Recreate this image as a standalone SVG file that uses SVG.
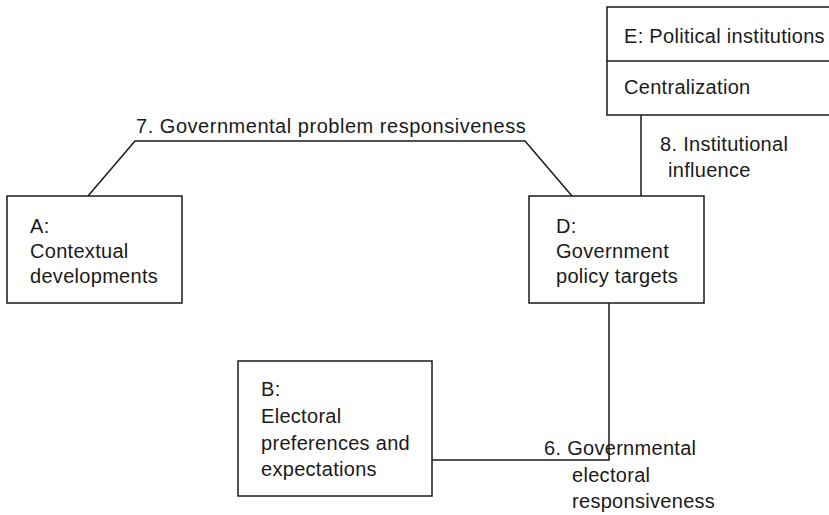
<svg xmlns="http://www.w3.org/2000/svg" width="829" height="515" viewBox="0 0 829 515">
  <style>
    .box { fill: #ffffff; stroke: #1a1a1a; stroke-width: 1.5; }
    .link { fill: none; stroke: #1a1a1a; stroke-width: 1.5; }
    text { font-family: "Liberation Sans", Arial, sans-serif; font-size: 20px; letter-spacing: 0.3px; fill: #1a1a1a; }
  </style>
  <rect width="829" height="515" fill="#ffffff"/>

  <!-- connectors -->
  <g id="connectors">
    <polyline class="link" points="88,196 135,141 525,141 572,196"/>
    <line class="link" x1="641" y1="115" x2="641" y2="196"/>
    <polyline class="link" points="609,303 609,460 432,460"/>
  </g>

  <!-- connector labels -->
  <g id="labels">
    <text x="136" y="133" textLength="390" lengthAdjust="spacing">7. Governmental problem responsiveness</text>
    <text x="660" y="151">8. Institutional</text>
    <text x="668" y="177">influence</text>
    <text x="544" y="455">6. Governmental</text>
    <text x="572" y="482">electoral</text>
    <text x="572" y="508">responsiveness</text>
  </g>

  <!-- E: political institutions -->
  <g id="node-E">
    <rect class="box" x="607" y="7" width="224" height="108"/>
    <line class="link" x1="607" y1="61" x2="829" y2="61"/>
    <text x="624" y="43">E: Political institutions</text>
    <text x="624" y="94">Centralization</text>
  </g>

  <!-- A: contextual developments -->
  <g id="node-A">
    <rect class="box" x="7" y="196" width="175" height="107"/>
    <text x="30" y="233">A:</text>
    <text x="30" y="258">Contextual</text>
    <text x="30" y="283">developments</text>
  </g>

  <!-- D: government policy targets -->
  <g id="node-D">
    <rect class="box" x="529" y="196" width="175" height="107"/>
    <text x="556" y="233">D:</text>
    <text x="556" y="258">Government</text>
    <text x="556" y="283">policy targets</text>
  </g>

  <!-- B: electoral preferences -->
  <g id="node-B">
    <rect class="box" x="238" y="361" width="194" height="135"/>
    <text x="261" y="396">B:</text>
    <text x="261" y="423">Electoral</text>
    <text x="261" y="450">preferences and</text>
    <text x="261" y="476">expectations</text>
  </g>
</svg>
